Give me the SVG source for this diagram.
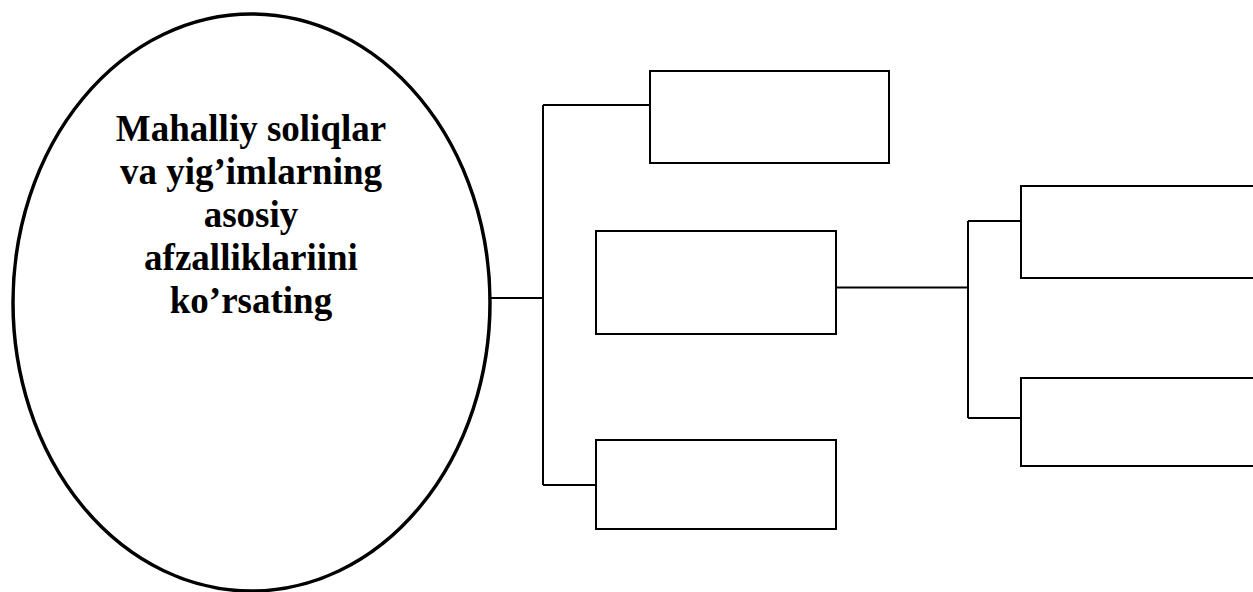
<svg xmlns="http://www.w3.org/2000/svg" width="1253" height="592" viewBox="0 0 1253 592">
<style>
.box{fill:#fff;stroke:#000;stroke-width:2}
.ell{fill:#fff;stroke:#000;stroke-width:3.5}
.conn{fill:none;stroke:#000;stroke-width:2}
.t{font-family:"Liberation Serif","Times New Roman",serif;font-weight:bold;font-size:37px;fill:#000;text-anchor:middle}
</style>
<rect width="1253" height="592" fill="#fff"/>
<g id="connectors">
<path class="conn" d="M490,298 H543 M543,105 V485 M543,105 H650 M543,485 H596"/>
<path class="conn" d="M836,287.5 H968 M968,221 V418 M968,221 H1021 M968,418 H1021"/>
</g>
<g id="main">
<ellipse class="ell" cx="251.5" cy="302.5" rx="238.5" ry="288.5"/>
<text class="t" x="251" y="141">Mahalliy soliqlar</text>
<text class="t" x="251" y="184">va yig’imlarning</text>
<text class="t" x="251" y="227">asosiy</text>
<text class="t" x="251" y="270">afzalliklariini</text>
<text class="t" x="251" y="313">ko’rsating</text>
</g>
<g id="box1"><rect class="box" x="650" y="71" width="239" height="92"/></g>
<g id="box2"><rect class="box" x="596" y="231" width="240" height="103"/></g>
<g id="box3"><rect class="box" x="596" y="440" width="240" height="89"/></g>
<g id="box4"><rect class="box" x="1021" y="186" width="260" height="92"/></g>
<g id="box5"><rect class="box" x="1021" y="378" width="260" height="88"/></g>
</svg>
